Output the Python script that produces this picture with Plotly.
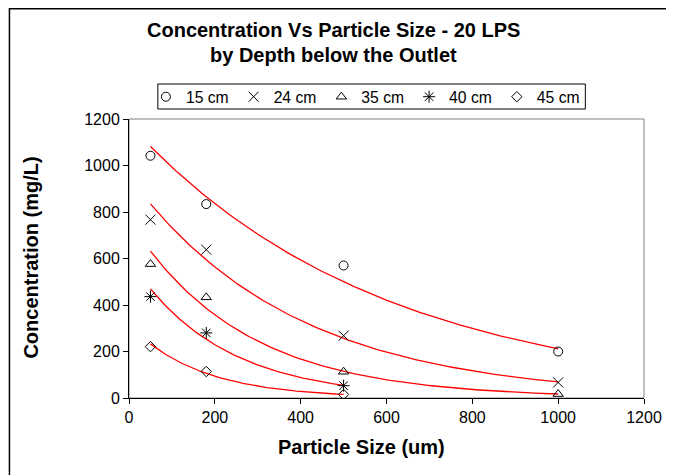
import numpy as np
import plotly.graph_objects as go

# ---- data ----
particle_size = [50, 180, 500, 1000]          # um
depth_labels = ["15 cm", "24 cm", "35 cm", "40 cm", "45 cm"]
conc_15 = [1042, 834, 570, 200]
conc_24 = [767, 638, 268, 67]
conc_35 = [576, 433, 113, 17]
conc_40 = [436, 280, 53]
conc_45 = [221, 114, 15]

series = [conc_15, conc_24, conc_35, conc_40, conc_45]
symbols = ["circle-open", "x-thin-open", "triangle-up-open", "asterisk-open", "diamond-open"]
msizes = [9, 10, 9, 10, 8]

# page has an 8px body margin; work in screen coordinates and convert
OFF = 8
W, H = 666, 467
L, T = 129 - OFF, 119 - OFF
R = W - (647 - OFF)
B = H - (398 - OFF)
pw, ph = W - L - R, H - T - B

def px(sx):
    return (sx - OFF - L) / pw

def py(sy):
    return (H - B - (sy - OFF)) / ph

fig = go.Figure()

# exponential trendlines (least squares on ln y, as Excel does)
for vals in series:
    xs = np.array(particle_size[:len(vals)], dtype=float)
    b, lna = np.polyfit(xs, np.log(vals), 1)
    xf = np.linspace(xs[0], xs[-1], 120)
    fig.add_trace(go.Scatter(x=xf, y=np.exp(lna + b * xf), mode="lines",
                             line=dict(color="#FF0000", width=1.3),
                             showlegend=False, hoverinfo="skip"))

for name, vals, sym, ms in zip(depth_labels, series, symbols, msizes):
    fig.add_trace(go.Scatter(x=particle_size[:len(vals)], y=vals, mode="markers", name=name,
                             marker=dict(symbol=sym, size=ms, color="black",
                                         line=dict(color="black", width=1))))

font = "Liberation Sans, Arial, sans-serif"

fig.update_layout(
    width=W, height=H,
    margin=dict(l=L, r=R, t=T, b=B),
    paper_bgcolor="white", plot_bgcolor="white",
    font=dict(family=font, size=16, color="black"),
    showlegend=True,
    legend=dict(orientation="h", x=px(146), y=py(80), xanchor="left", yanchor="top",
                borderwidth=0, bgcolor="rgba(0,0,0,0)",
                font=dict(family=font, size=15.7, color="black"),
                itemwidth=30, tracegroupgap=0),
    xaxis=dict(range=[0, 1200], dtick=200, tick0=0, showgrid=False, zeroline=False,
               showline=True, linecolor="black", linewidth=1,
               ticks="outside", ticklen=5, tickcolor="black",
               tickfont=dict(family=font, size=16, color="black")),
    yaxis=dict(range=[0, 1200], dtick=200, tick0=0, showgrid=False, zeroline=False,
               showline=True, linecolor="black", linewidth=1,
               ticks="outside", ticklen=5, tickcolor="black",
               tickfont=dict(family=font, size=16, color="black")),
    shapes=[
        dict(type="rect", xref="paper", yref="paper", x0=0, y0=0, x1=1, y1=1,
             line=dict(color="#808080", width=1), layer="below"),
        dict(type="rect", xref="paper", yref="paper", x0=px(8.75), y0=py(490), x1=px(671.5), y1=py(8.75),
             line=dict(color="black", width=1.5), layer="below"),
        dict(type="rect", xref="paper", yref="paper", x0=px(158), y0=py(109), x1=px(588), y1=py(84),
             line=dict(color="black", width=1), fillcolor="white", layer="below"),
    ],
    annotations=[
        dict(text="<b>Concentration Vs Particle Size - 20 LPS</b>", xref="paper", yref="paper",
             x=px(335), y=py(30), xanchor="center", yanchor="middle", showarrow=False,
             font=dict(family=font, size=20, color="black")),
        dict(text="<b>by Depth below the Outlet</b>", xref="paper", yref="paper",
             x=px(335), y=py(55), xanchor="center", yanchor="middle", showarrow=False,
             font=dict(family=font, size=20, color="black")),
        dict(text="<b>Particle Size (um)</b>", xref="paper", yref="paper",
             x=px(363), y=py(447), xanchor="center", yanchor="middle", showarrow=False,
             font=dict(family=font, size=20, color="black")),
        dict(text="<b>Concentration (mg/L)</b>", xref="paper", yref="paper",
             x=px(30), y=py(258), xanchor="center", yanchor="middle", showarrow=False,
             textangle=-90, font=dict(family=font, size=20, color="black")),
    ],
)

fig.write_html("out.html")
